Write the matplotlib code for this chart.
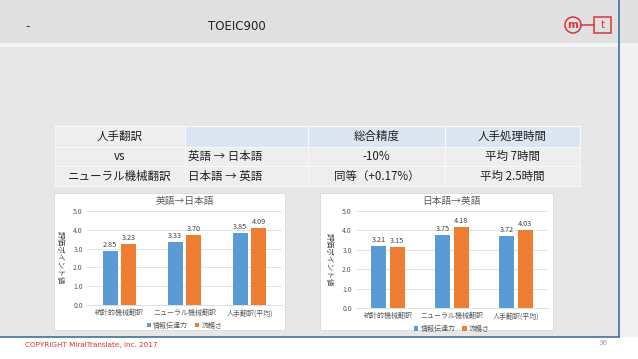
#!/usr/bin/env python3
"""
Slide: human translation vs neural MT, table + two bar charts.
"""
import numpy as np
import matplotlib
matplotlib.use("Agg")
import matplotlib.pyplot as plt
from matplotlib.patches import Rectangle, Circle

plt.rcParams['font.family'] = ['Noto Sans CJK JP', 'DejaVu Sans']

W, H = 638, 359

# --- data -------------------------------------------------------------
categories = ["統計的機械翻訳", "ニューラル機械翻訳", "人手翻訳(平均)"]
series_names = ["情報伝達力", "流暢さ"]
en_ja_info = [2.85, 3.33, 3.85]
en_ja_flu = [3.23, 3.70, 4.09]
ja_en_info = [3.21, 3.75, 3.72]
ja_en_flu = [3.15, 4.18, 4.03]

table_header = ["", "総合精度", "人手処理時間"]
table_rows = [["英語 → 日本語", "-10%", "平均 7時間"],
              ["日本語 → 英語", "同等（+0.17%）", "平均 2.5時間"]]
left_col = ["人手翻訳", "vs", "ニューラル機械翻訳"]

BLUE = "#5b9bd5"
ORANGE = "#ed7d31"
RED = "#d2373c"


def px(x0, y0, x1, y1):
    """pixel box (top-left origin) -> figure fraction rect"""
    return [x0 / W, 1 - y1 / H, (x1 - x0) / W, (y1 - y0) / H]


fig = plt.figure(figsize=(W / 100, H / 100), dpi=100)
fig.patch.set_facecolor("white")

# background / slide frame drawn in pixel coords
bg = fig.add_axes([0, 0, 1, 1])
bg.set_xlim(0, W)
bg.set_ylim(H, 0)
bg.axis("off")
bg.add_patch(Rectangle((0, 0), 619, 337, color="#e7e7e7", lw=0))
bg.add_patch(Rectangle((619, 0), W - 619, 337, color="#f1f1f1", lw=0))
bg.add_patch(Rectangle((0, 0), W, 43, color="#e0e0e0", lw=0))
bg.add_patch(Rectangle((0, 43), W, 4, color="#f3f3f3", lw=0))
bg.plot([0, 619], [337, 337], color="#41719c", lw=1.2)
bg.plot([619, 619], [0, 337], color="#41719c", lw=1.2)

bg.text(28, 27, "-", fontsize=9, color="#333333", ha="center", va="center")
bg.text(237, 27, "TOEIC900", fontsize=8.5, color="#222222",
        ha="center", va="center", family="DejaVu Sans")

# logo
bg.add_patch(Circle((573, 25), 8, fill=False, ec=RED, lw=1.1))
bg.text(573, 24.5, "m", fontsize=7.5, color=RED, ha="center", va="center",
        fontweight="bold", family="DejaVu Sans")
bg.plot([581, 594], [25, 25], color=RED, lw=1.1)
bg.add_patch(Rectangle((594, 17), 17, 16, fill=False, ec=RED, lw=1.1))
bg.text(602.5, 25, "t", fontsize=7.5, color=RED, ha="center", va="center",
        family="DejaVu Sans")

# footer
bg.text(25, 345, "COPYRIGHT MiraiTranslate, Inc. 2017", fontsize=5.2,
        color="#e03030", ha="left", va="center", family="DejaVu Sans")
bg.text(603, 343, "36", fontsize=5, color="#999999", ha="center", va="center",
        family="DejaVu Sans")

# --- table ------------------------------------------------------------
col_x = [55, 185, 308, 445, 580]
row_y = [126, 146.5, 166, 186]
for r in range(3):
    for c in range(4):
        face = "#dce6f2" if (r == 0 and c > 0) else "#eeeeee"
        bg.add_patch(Rectangle((col_x[c], row_y[r]), col_x[c + 1] - col_x[c],
                               row_y[r + 1] - row_y[r], facecolor=face,
                               edgecolor="#f8f8f8", lw=0.8))
fs_t = 8.3
for r, label in enumerate(left_col):
    yc = (row_y[r] + row_y[r + 1]) / 2
    bg.text((col_x[0] + col_x[1]) / 2, yc, label, fontsize=fs_t,
            ha="center", va="center", color="#222222")
for c, label in enumerate(table_header):
    yc = (row_y[0] + row_y[1]) / 2
    bg.text((col_x[c + 1] + col_x[c + 2]) / 2, yc, label, fontsize=fs_t,
            ha="center", va="center", color="#222222")
for r, row in enumerate(table_rows):
    yc = (row_y[r + 1] + row_y[r + 2]) / 2
    bg.text(col_x[1] + 3, yc, row[0], fontsize=fs_t, ha="left",
            va="center", color="#222222")
    for c in (1, 2):
        bg.text((col_x[c + 1] + col_x[c + 2]) / 2, yc, row[c], fontsize=fs_t,
                ha="center", va="center", color="#222222")


# --- charts -----------------------------------------------------------
def draw_chart(box, plot, title, info, flu):
    bg.add_patch(Rectangle((box[0], box[1]), box[2] - box[0], box[3] - box[1],
                           facecolor="white", edgecolor="#d9d9d9", lw=0.6))
    ax = fig.add_axes(px(*plot))
    ax.set_facecolor("none")
    x = np.arange(len(categories))
    w, off = 0.23, 0.145
    b1 = ax.bar(x - off, info, w, color=BLUE, label=series_names[0], zorder=3)
    b2 = ax.bar(x + off, flu, w, color=ORANGE, label=series_names[1], zorder=3)
    for bars in (b1, b2):
        ax.bar_label(bars, fmt="%.2f", fontsize=5.2, padding=1.5, color="#404040")
    ax.set_ylim(0, 5)
    ax.set_xlim(-0.5, 2.5)
    ax.set_yticks(np.arange(0, 5.01, 1.0))
    ax.set_yticklabels([f"{v:.1f}" for v in np.arange(0, 5.01, 1.0)])
    ax.set_xticks(x)
    ax.set_xticklabels(categories)
    ax.tick_params(axis="both", length=0, labelsize=5, colors="#595959", pad=3)
    ax.grid(axis="y", color="#d9d9d9", lw=0.5, zorder=0)
    for s in ("top", "right", "left"):
        ax.spines[s].set_visible(False)
    ax.spines["bottom"].set_color("#d9d9d9")
    ax.spines["bottom"].set_linewidth(0.6)
    ax.set_ylabel("評価ポイント値", fontsize=5.5, color="#404040",
                  rotation=270, ha="center", va="center")
    ax.yaxis.set_label_coords(-0.14, 0.5)
    ax.set_title(title, fontsize=7, color="#595959", pad=5)
    ax.legend(loc="upper center", bbox_to_anchor=(0.5, -0.11), ncol=2,
              frameon=False, fontsize=5, handlelength=0.6, handleheight=0.6,
              columnspacing=1.0, handletextpad=0.3, labelcolor="#595959")
    return ax


draw_chart((54, 193, 285, 330), (87, 211, 282, 305), "英語→日本語",
           en_ja_info, en_ja_flu)
draw_chart((320, 193, 553, 330), (356, 211, 548, 308), "日本語→英語",
           ja_en_info, ja_en_flu)

fig.savefig("out.png", dpi=100)
